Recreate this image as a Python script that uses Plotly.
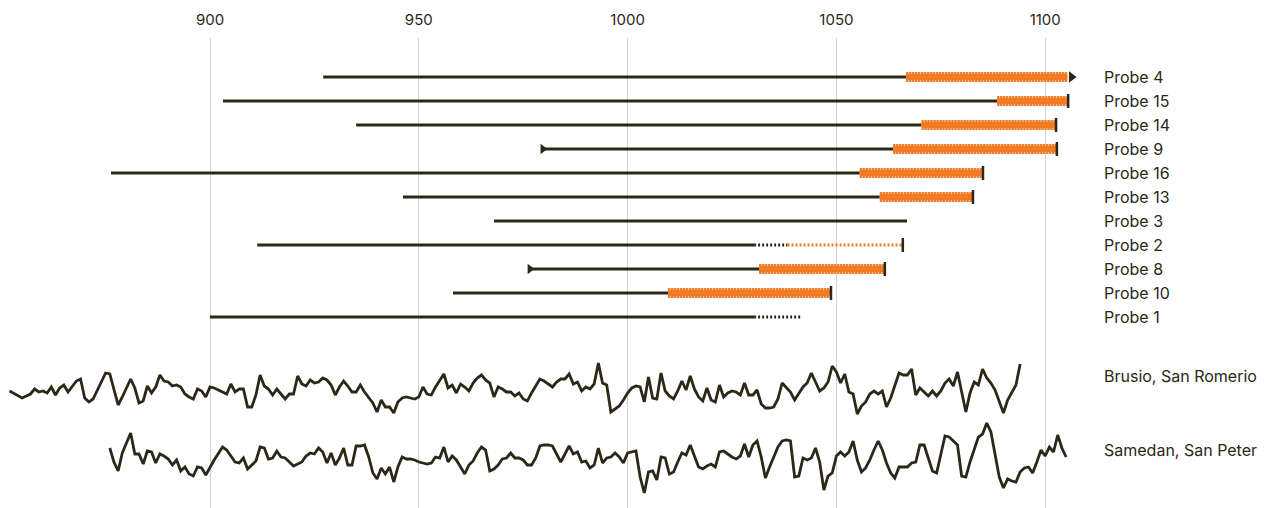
import plotly.graph_objects as go

# ---------------- data ----------------
probes = ["Probe 4", "Probe 15", "Probe 14", "Probe 9", "Probe 16", "Probe 13",
          "Probe 3", "Probe 2", "Probe 8", "Probe 10", "Probe 1"]
start_year = [927.1, 903.1, 935.0, 979.7, 876.3, 946.2, 968.0, 911.3, 976.6, 958.2, 900.0]
solid_end = [1066.7, 1088.5, 1070.4, 1063.6, 1055.6, 1060.4, 1066.9, 1030.3, 1031.5, 1009.7, 1030.3]
uncertain_end = [None, None, None, None, None, None, None, 1038.3, None, None, 1041.5]
sapwood_end = [1105.3, 1105.5, 1102.6, 1102.8, 1085.1, 1082.7, None, 1065.9, 1061.6, 1048.7, None]
sapwood_certain = [True, True, True, True, True, True, True, False, True, True, True]
start_arrow = [False, False, False, True, False, False, False, False, True, False, False]
end_type = ["arrow", "cap", "cap", "cap", "cap", "cap", None, "cap", "cap", "cap", None]

brusio_years = [852, 855, 857, 858, 859, 860, 861, 862, 863, 864, 865, 866, 868, 869, 870, 871, 872, 874, 875, 876,
                878, 879, 881, 882, 883, 884, 885, 886, 887, 888, 889, 890, 891, 892, 893, 894, 895, 896, 897, 898,
                899, 900, 901, 903, 904, 905, 906, 907, 908, 909, 910, 911, 912, 913, 914, 915, 916, 917, 918, 919,
                920, 921, 922, 923, 924, 925, 926, 927, 928, 929, 930, 931, 932, 933, 934, 935, 936, 937, 938, 939,
                940, 941, 942, 943, 944, 945, 946, 947, 948, 949, 950, 951, 952, 953, 954, 955, 956, 957, 958, 959,
                960, 961, 962, 963, 964, 965, 966, 967, 968, 969, 970, 971, 972, 973, 974, 975, 976, 977, 979, 980,
                981, 982, 983, 984, 985, 986, 987, 988, 989, 990, 991, 992, 993, 994, 995, 996, 997, 998, 999, 1000,
                1001, 1002, 1003, 1004, 1005, 1006, 1007, 1008, 1009, 1010, 1011, 1012, 1013, 1014, 1015, 1016, 1017,
                1018, 1019, 1020, 1021, 1022, 1023, 1024, 1025, 1026, 1027, 1028, 1029, 1030, 1031, 1032, 1033, 1034,
                1035, 1036, 1037, 1038, 1039, 1040, 1041, 1042, 1043, 1044, 1045, 1046, 1047, 1048, 1049, 1050, 1051,
                1052, 1053, 1054, 1055, 1056, 1057, 1058, 1059, 1060, 1061, 1062, 1063, 1064, 1065, 1066, 1067, 1068,
                1069, 1070, 1071, 1072, 1073, 1074, 1075, 1076, 1077, 1078, 1079, 1080, 1081, 1082, 1083, 1084, 1085,
                1086, 1087, 1088, 1090, 1091, 1093, 1094]
brusio_values = [119, 112, 116, 121, 118, 119, 117, 123, 115, 122, 125, 118, 129, 131, 112, 108, 111, 128, 137, 136,
                 105, 113, 131, 122, 107, 109, 124, 117, 123, 135, 129, 128, 124, 125, 123, 116, 113, 111, 121, 119,
                 113, 123, 122, 118, 116, 126, 118, 121, 121, 103, 103, 115, 135, 124, 121, 115, 121, 116, 111, 116,
                 116, 134, 126, 124, 130, 127, 128, 132, 130, 125, 115, 123, 129, 124, 118, 118, 125, 118, 112, 107,
                 98, 110, 103, 103, 97, 108, 112, 113, 112, 111, 113, 123, 116, 115, 123, 130, 136, 122, 125, 117,
                 126, 123, 119, 127, 132, 135, 130, 127, 113, 123, 121, 118, 118, 114, 117, 111, 109, 117, 131, 129,
                 126, 123, 128, 131, 131, 136, 126, 128, 119, 123, 121, 126, 147, 127, 125, 98, 101, 104, 110, 117,
                 122, 124, 123, 108, 133, 112, 111, 137, 119, 114, 111, 119, 129, 120, 134, 121, 113,
                 109, 122, 110, 108, 125, 113, 117, 119, 118, 115, 127, 115, 115, 120, 106, 102, 102,
                 103, 111, 127, 123, 118, 110, 117, 123, 127, 137, 128, 119, 122, 128, 144, 138, 127,
                 136, 118, 116, 96, 104, 108, 116, 119, 116, 119, 103, 112, 125, 137, 135, 135, 141,
                 115, 122, 118, 114, 119, 114, 119, 127, 131, 124, 138, 117, 98, 117, 128, 125, 141,
                 132, 127, 120, 97, 110, 125, 146]

samedan_years = [876, 877, 878, 879, 881, 882, 883, 884, 885, 886, 887, 888, 889, 890, 891, 892, 893, 894, 895, 896,
                 897, 898, 899, 901, 903, 904, 905, 906, 907, 908, 909, 910, 911, 912, 913, 914, 915, 916, 917, 918,
                 919, 920, 921, 922, 923, 924, 925, 926, 927, 928, 929, 930, 931, 932, 933, 934, 935, 936, 937, 938,
                 939, 940, 941, 942, 943, 944, 945, 946, 947, 948, 949, 950, 951, 952, 953, 954, 955, 956, 957, 958,
                 959, 960, 961, 962, 963, 964, 965, 966, 967, 968, 969, 970, 971, 972, 973, 974, 975, 976, 977, 978,
                 979, 980, 981, 982, 983, 984, 985, 986, 987, 988, 989, 990, 991, 992, 993, 994, 995, 996, 997, 998,
                 999, 1000, 1002, 1003, 1004, 1005, 1006, 1007, 1008, 1009, 1010, 1011, 1012, 1013, 1014, 1015, 1016,
                 1017, 1018, 1019, 1020, 1021, 1022, 1023, 1024, 1025, 1026, 1027, 1028, 1029, 1030, 1031, 1032, 1033,
                 1034, 1035, 1036, 1037, 1038, 1039, 1040, 1041, 1042, 1043, 1044, 1045, 1046, 1047, 1048, 1049, 1050,
                 1051, 1052, 1053, 1054, 1055, 1056, 1057, 1058, 1059, 1060, 1061, 1062, 1063, 1064, 1065, 1066, 1067,
                 1068, 1069, 1070, 1071, 1072, 1073, 1074, 1075, 1076, 1077, 1078, 1079, 1080, 1081, 1082, 1083, 1084,
                 1085, 1086, 1087, 1088, 1089, 1090, 1091, 1092, 1093, 1094, 1095, 1096, 1097, 1098, 1099, 1100, 1101,
                 1102, 1103, 1104, 1105]
samedan_values = [62, 48, 39, 57, 77, 56, 56, 46, 59, 58, 47, 56, 54, 51, 45, 50, 39, 43, 36, 34,
                  43, 42, 35, 50, 63, 60, 54, 48, 47, 52, 41, 45, 49, 63, 62, 51, 52, 59, 53, 52,
                  48, 44, 46, 48, 54, 57, 56, 62, 58, 47, 57, 45, 52, 62, 45, 45, 64, 64, 65, 53,
                  37, 31, 42, 36, 43, 28, 43, 53, 51, 51, 50, 48, 47, 46, 47, 53, 52, 63, 48, 54,
                  50, 43, 36, 45, 49, 57, 63, 60, 39, 41, 45, 51, 52, 57, 52, 52, 50, 45, 45, 52,
                  64, 65, 65, 64, 56, 48, 56, 64, 56, 58, 48, 49, 42, 45, 62, 47, 52, 53, 57, 53,
                  47, 57, 59, 33, 17, 38, 39, 30, 53, 52, 36, 38, 48, 57, 55, 65, 54,
                  43, 41, 44, 46, 43, 58, 59, 56, 53, 51, 54, 66, 53, 65, 69, 53, 32,
                  43, 54, 63, 69, 70, 69, 33, 34, 52, 50, 52, 62, 48, 20, 34, 37, 54,
                  58, 54, 58, 69, 50, 38, 42, 50, 60, 69, 60, 47, 37, 32, 43, 43, 43,
                  47, 48, 65, 65, 52, 39, 37, 57, 74, 73, 69, 65, 34, 33, 48, 60, 73,
                  76, 87, 78, 57, 33, 22, 31, 29, 28, 38, 42, 43, 37, 48, 60, 54, 63,
                  58, 75, 62, 53]

series_names = ["Brusio, San Romerio", "Samedan, San Peter"]
tick_years = [900, 950, 1000, 1050, 1100]

# ---------------- layout constants ----------------
W, H = 1264, 508
TOP = 38
PX_PER_YEAR = 4.176
X0 = 900 - 210 / PX_PER_YEAR
ROW0_PX = 77
ROW_PX = 24

DARK = "#2b2817"
ORANGE = "#f27a22"
PEACH = "#f9c9a2"
GRID = "#d2d2d2"
FONT = "Inter, Noto Sans, sans-serif"

fig = go.Figure()


def seg(x0, x1, row, color, width, dash="solid"):
    fig.add_trace(go.Scatter(x=[x0, x1], y=[row, row], mode="lines",
                             line=dict(color=color, width=width, dash=dash),
                             hoverinfo="skip", showlegend=False))


for i, name in enumerate(probes):
    row = i
    seg(start_year[i], solid_end[i], row, DARK, 3)
    last = solid_end[i]
    if uncertain_end[i] is not None:
        seg(solid_end[i], uncertain_end[i], row, DARK, 3, "2px,2px")
        last = uncertain_end[i]
    if sapwood_end[i] is not None:
        if sapwood_certain[i]:
            seg(last, sapwood_end[i], row, PEACH, 10)
            seg(last, sapwood_end[i], row, ORANGE, 10, "2px,1px")
            seg(last, sapwood_end[i], row, ORANGE, 6)
        else:
            seg(last, sapwood_end[i], row, ORANGE, 3, "2px,2px")
        last = sapwood_end[i]
    if start_arrow[i]:
        fig.add_trace(go.Scatter(x=[start_year[i]], y=[row], mode="markers",
                                 marker=dict(symbol="triangle-right", size=9, color=DARK),
                                 hoverinfo="skip", showlegend=False))
    if end_type[i] == "cap":
        fig.add_trace(go.Scatter(x=[last], y=[row], mode="markers",
                                 marker=dict(symbol="line-ns-open", size=10, color=DARK,
                                             line=dict(color=DARK, width=2.5)),
                                 hoverinfo="skip", showlegend=False))
    elif end_type[i] == "arrow":
        fig.add_trace(go.Scatter(x=[last + 1.0], y=[row], mode="markers",
                                 marker=dict(symbol="triangle-right", size=10, color=DARK),
                                 hoverinfo="skip", showlegend=False))
    fig.add_annotation(x=1113.5, y=row, xref="x", yref="y", text=name, showarrow=False,
                       xanchor="left", yanchor="middle",
                       font=dict(family=FONT, size=16, color=DARK))

for yrs, vals in [(brusio_years, brusio_values), (samedan_years, samedan_values)]:
    fig.add_trace(go.Scatter(x=yrs, y=vals, yaxis="y2", mode="lines",
                             line=dict(color=DARK, width=2.8),
                             hoverinfo="skip", showlegend=False))

for name, ypos in zip(series_names, [134, 60]):
    fig.add_annotation(x=1113.5, y=ypos, xref="x", yref="y2", text=name, showarrow=False,
                       xanchor="left", yanchor="middle",
                       font=dict(family=FONT, size=16, color=DARK))

fig.update_layout(
    width=W, height=H,
    margin=dict(l=0, r=0, t=TOP, b=0),
    paper_bgcolor="white", plot_bgcolor="white",
    xaxis=dict(range=[X0, X0 + W / PX_PER_YEAR], side="top", tickvals=tick_years,
               showgrid=True, gridcolor=GRID, gridwidth=1, zeroline=False,
               showline=False, ticks="", ticklabelstandoff=9,
               tickfont=dict(family=FONT, size=15, color=DARK)),
    yaxis=dict(range=[(H - ROW0_PX) / ROW_PX, -(ROW0_PX - TOP) / ROW_PX],
               visible=False, showgrid=False, zeroline=False),
    yaxis2=dict(range=[H + 2 - H, H + 2 - TOP], overlaying="y", visible=False,
                showgrid=False, zeroline=False),
)

fig.write_html("out.html", config={"displayModeBar": False},
               post_script="document.body.style.margin='0';document.body.style.overflow='hidden';")
